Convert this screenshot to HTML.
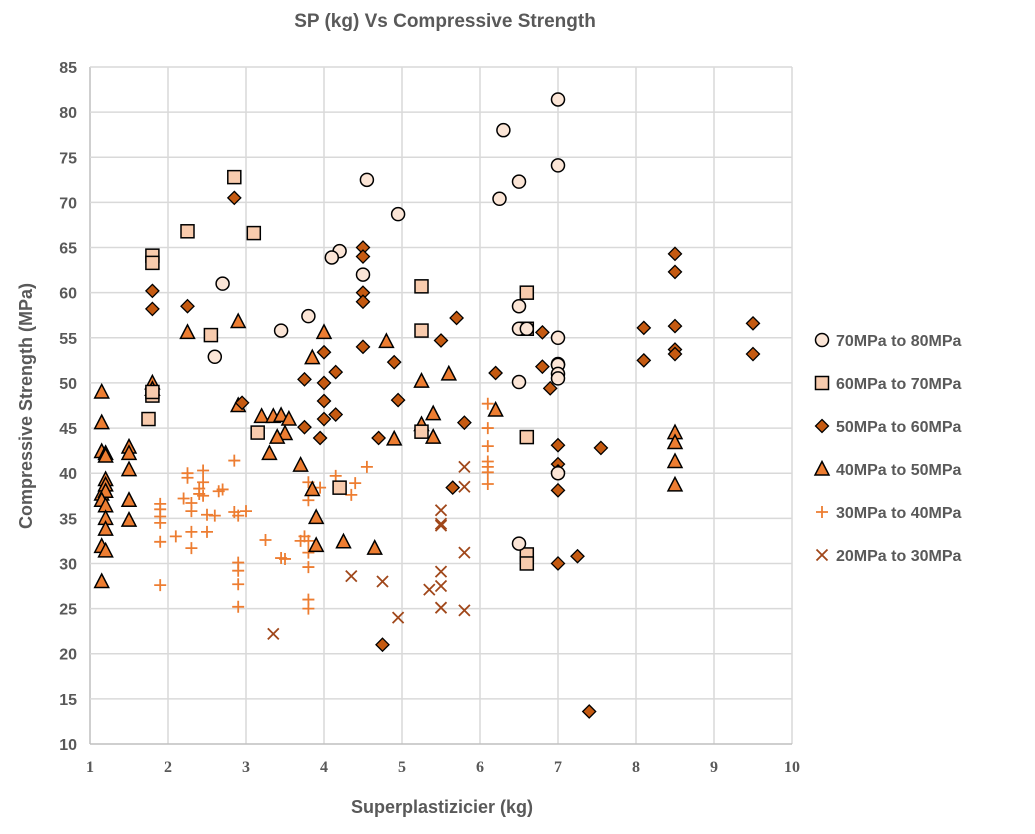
<!DOCTYPE html>
<html><head><meta charset="utf-8"><style>
body{margin:0;background:#fff;}
svg text{font-family:"Liberation Sans",Calibri,sans-serif;font-weight:bold;fill:#595959;}
</style></head><body>
<svg id="chart" width="1035" height="829" viewBox="0 0 1035 829" xmlns="http://www.w3.org/2000/svg">
<text x="445" y="27" font-size="19" text-anchor="middle">SP (kg) Vs Compressive Strength</text>
<g id="grid"></g>
<g id="ticks"></g>
<g id="marks"></g>
<g id="legend"></g>
<text x="442" y="813" font-size="18" text-anchor="middle">Superplastizicier (kg)</text>
<text x="0" y="0" font-size="18" text-anchor="middle" transform="translate(32,406) rotate(-90)">Compressive Strength (MPa)</text>
</svg>
<script>
const xTicks=[1,2,3,4,5,6,7,8,9,10];
const yTicks=[10,15,20,25,30,35,40,45,50,55,60,65,70,75,80,85];
const seriesNames=["70MPa to 80MPa","60MPa to 70MPa","50MPa to 60MPa","40MPa to 50MPa","30MPa to 40MPa","20MPa to 30MPa"];
const s70x=[7,6.3,7,4.55,6.5,6.25,4.95,4.2,4.1,2.7,4.5,6.5,3.8,3.45,6.5,6.6,7,2.6,7,7,6.5,7,7,7,6.5];
const s70y=[81.4,78,74.1,72.5,72.3,70.4,68.7,64.6,63.9,61,62,58.5,57.4,55.8,56,56,55,52.9,52.1,52,50.1,51,50.5,40,32.2];
const s60x=[2.85,2.25,3.1,1.8,1.8,5.25,6.6,2.55,5.25,6.6,1.8,1.8,1.75,3.15,5.25,6.6,4.2,6.6,6.6];
const s60y=[72.8,66.8,66.6,64.1,63.3,60.7,60,55.3,55.8,56,48.6,49,46,44.5,44.6,44,38.4,31,30];
const s50x=[2.85,4.5,8.5,4.5,8.5,1.8,4.5,1.8,2.25,4.5,5.7,8.5,8.1,9.5,6.8,5.5,4.5,4.0,8.5,8.5,9.5,8.1,4.9,6.8,7.0,4.15,6.2,3.75,4.0,6.9,4,4.95,2.95,4.15,4.0,3.75,5.8,3.95,4.7,7,7.55,7,7,5.65,7,7.25,7,4.75,7.4];
const s50y=[70.5,65,64.3,64,62.3,60.2,60,58.2,58.5,59,57.2,56.3,56.1,56.6,55.6,54.7,54,53.4,53.7,53.2,53.2,52.5,52.3,51.8,52,51.2,51.1,50.4,50,49.4,48,48.1,47.8,46.5,46,45.1,45.6,43.9,43.9,43.1,42.8,41,40.2,38.4,38.1,30.8,30,21,13.6];
const s40x=[1.15,1.8,1.8,2.9,2.25,4,4.8,3.85,5.25,5.6,1.15,1.15,1.2,1.2,1.5,1.5,1.5,1.15,1.2,1.2,1.2,1.15,1.2,1.5,1.2,1.5,1.2,1.15,1.2,1.15,2.9,3.2,3.35,3.45,3.55,3.5,3.4,3.3,3.7,3.85,3.9,3.9,4.25,4.65,4.9,5.25,5.4,5.4,6.2,8.5,8.5,8.5,8.5];
const s40y=[49,50,49.3,56.8,55.6,55.6,54.6,52.8,50.2,51,45.6,42.4,42.2,41.9,42.9,42.2,40.4,37.7,39.3,38.7,38,37,36.4,37,35,34.8,33.8,31.9,31.4,28,47.5,46.3,46.3,46.4,46,44.4,44,42.2,40.9,38.2,35.1,32,32.4,31.7,43.8,45.4,46.6,44,47,44.5,43.4,41.3,38.7];
const s30x=[1.9,1.9,1.9,1.9,1.9,1.9,2.1,2.2,2.25,2.25,2.3,2.3,2.3,2.3,2.4,2.4,2.45,2.45,2.45,2.5,2.5,2.6,2.65,2.7,2.85,2.85,2.9,2.9,2.9,2.9,2.9,3.0,3.25,3.45,3.5,3.7,3.75,3.8,3.8,3.8,3.8,3.8,3.8,3.8,3.95,4.15,4.35,4.4,4.55,6.1,6.1,6.1,6.1,6.1,6.1,6.1];
const s30y=[36.6,36,35.2,34.5,32.4,27.6,33,37.2,39.5,40,36.7,35.8,33.5,31.7,37.7,38.3,40.3,39,37.5,35.4,33.5,35.3,38,38.2,41.4,35.7,35.3,30.1,29.2,27.7,25.2,35.8,32.6,30.6,30.5,32.5,33,32.5,31.2,29.6,26,25,37,39,38.4,39.7,37.6,38.9,40.7,47.7,45,43,41.3,40.7,40.1,38.8];
const s20x=[3.35,4.35,4.75,4.95,5.35,5.5,5.5,5.5,5.5,5.5,5.5,5.8,5.8,5.8,5.8];
const s20y=[22.2,28.6,28,24,27.1,35.9,34.4,34.2,29.1,27.5,25.1,40.7,38.5,31.2,24.8];

const X0=90,X1=792,Y0=744,Y1=67;
const xs=v=>X0+(v-1)/9*(X1-X0);
const ys=v=>Y0-(v-10)/75*(Y0-Y1);
const NS="http://www.w3.org/2000/svg";
function mk(tag,parent,attrs){const e=document.createElementNS(NS,tag);for(const k in attrs)e.setAttribute(k,attrs[k]);parent.appendChild(e);return e;}
const grid=document.getElementById('grid'),ticks=document.getElementById('ticks'),marks=document.getElementById('marks'),legend=document.getElementById('legend');
xTicks.forEach(t=>{
 const l=mk('line',grid,{x1:xs(t),x2:xs(t),y1:Y1,y2:Y0,stroke:t===1?'#bfbfbf':'#d9d9d9','stroke-width':t===1?1.5:1.5});
 
 
 const tx=mk('text',ticks,{x:xs(t),y:Y0+28,'font-size':16,'text-anchor':'middle',style:'font-family:"Liberation Serif",serif;fill:#595959'});
 tx.textContent=t;
 
 
});
yTicks.forEach(t=>{
 const l=mk('line',grid,{x1:X0,x2:X1,y1:ys(t),y2:ys(t),stroke:t===10?'#bfbfbf':'#d9d9d9','stroke-width':1.5});
 
 
 const tx=mk('text',ticks,{x:X0-13,y:ys(t)+6,'font-size':16,'text-anchor':'end'});
 tx.textContent=t;
 
 
});
function marker(kind,cx,cy,parent){
 let e;
 if(kind===0)e=mk('circle',parent,{cx,cy,r:6.5,fill:'#fbe5d6',stroke:'#000','stroke-width':1.5});
 else if(kind===1)e=mk('rect',parent,{x:cx-6.5,y:cy-6.5,width:13,height:13,fill:'#f8cbad',stroke:'#000','stroke-width':1.5});
 else if(kind===2)e=mk('polygon',parent,{points:`${cx},${cy-6.5} ${cx+6.5},${cy} ${cx},${cy+6.5} ${cx-6.5},${cy}`,fill:'#c55a11',stroke:'#000','stroke-width':1.3});
 else if(kind===3)e=mk('polygon',parent,{points:`${cx},${cy-7.5} ${cx+7},${cy+6} ${cx-7},${cy+6}`,fill:'#ed7d31',stroke:'#000','stroke-width':1.5});
 else if(kind===4)e=mk('path',parent,{d:`M${cx-6},${cy}H${cx+6}M${cx},${cy-6}V${cy+6}`,stroke:'#ed7d31','stroke-width':1.8,fill:'none'});
 else e=mk('path',parent,{d:`M${cx-5.5},${cy-5.5}L${cx+5.5},${cy+5.5}M${cx-5.5},${cy+5.5}L${cx+5.5},${cy-5.5}`,stroke:'#a0471a','stroke-width':1.8,fill:'none'});
 return e;
}
const data=[[s70x,s70y],[s60x,s60y],[s50x,s50y],[s40x,s40y],[s30x,s30y],[s20x,s20y]];
const names=['point-70-80','point-60-70','point-50-60','point-40-50','point-30-40','point-20-30'];
[5,4,3,2,1,0].forEach(k=>{
 const [dx,dy]=data[k];
 dx.forEach((v,i)=>{
  const e=marker(k,xs(v),ys(dy[i]),marks);
  
  
 });
});
seriesNames.forEach((n,i)=>{
 const y=340+i*43;
 const g=mk('g',legend,{});
 
 
 marker(i,822,y,g);
 const t=mk('text',g,{x:836,y:y+6,'font-size':16});
 t.textContent=n;
});
</script>
</body></html>
